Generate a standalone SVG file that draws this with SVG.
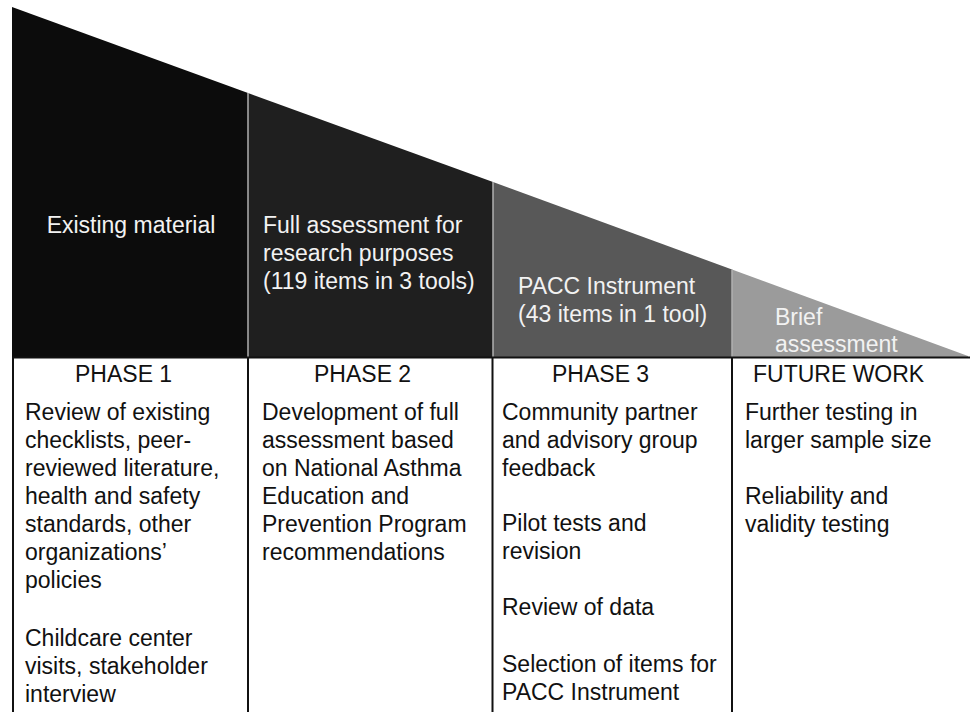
<svg xmlns="http://www.w3.org/2000/svg" width="971" height="712" viewBox="0 0 971 712">
<style>
text{font-family:"Liberation Sans",Arial,Helvetica,sans-serif;font-size:23px}
.w{fill:#f2f2f2}
.b{fill:#111}
.sep{stroke:#b0b0b0;stroke-width:1.5;fill:none}
.grid{stroke:#111;stroke-width:2;fill:none}
</style>
<rect width="971" height="712" fill="#ffffff"/>
<g id="col1">
<polygon points="12,7 248,93 248,357 12,357" fill="#0c0c0c"/>
<text class="w" x="131" y="233" text-anchor="middle">Existing material</text>
<text class="b" x="75" y="382">PHASE 1</text>
<text class="b" x="25" y="420">Review of existing</text>
<text class="b" x="25" y="448">checklists, peer-</text>
<text class="b" x="25" y="476">reviewed literature,</text>
<text class="b" x="25" y="504">health and safety</text>
<text class="b" x="25" y="532">standards, other</text>
<text class="b" x="25" y="560">organizations’</text>
<text class="b" x="25" y="588">policies</text>
<text class="b" x="25" y="646">Childcare center</text>
<text class="b" x="25" y="674">visits, stakeholder</text>
<text class="b" x="25" y="702">interview</text>
</g>
<g id="col2">
<polygon points="248,93 493,182 493,357 248,357" fill="#1f1f1f"/>
<text class="w" x="263" y="233">Full assessment for</text>
<text class="w" x="263" y="261">research purposes</text>
<text class="w" x="263" y="289">(119 items in 3 tools)</text>
<text class="b" x="314" y="382">PHASE 2</text>
<text class="b" x="262" y="420">Development of full</text>
<text class="b" x="262" y="448">assessment based</text>
<text class="b" x="262" y="476">on National Asthma</text>
<text class="b" x="262" y="504">Education and</text>
<text class="b" x="262" y="532">Prevention Program</text>
<text class="b" x="262" y="560">recommendations</text>
</g>
<g id="col3">
<polygon points="493,182 732,269.5 732,357 493,357" fill="#585858"/>
<text class="w" x="518" y="294">PACC Instrument</text>
<text class="w" x="518" y="322">(43 items in 1 tool)</text>
<text class="b" x="552" y="382">PHASE 3</text>
<text class="b" x="502" y="420">Community partner</text>
<text class="b" x="502" y="448">and advisory group</text>
<text class="b" x="502" y="476">feedback</text>
<text class="b" x="502" y="531">Pilot tests and</text>
<text class="b" x="502" y="559">revision</text>
<text class="b" x="502" y="615">Review of data</text>
<text class="b" x="502" y="672">Selection of items for</text>
<text class="b" x="502" y="700">PACC Instrument</text>
</g>
<g id="col4">
<polygon points="732,269.5 968,356 968,357 732,357" fill="#9b9b9b"/>
<text class="w" x="775" y="325">Brief</text>
<text class="w" x="775" y="352">assessment</text>
<text class="b" x="753" y="382">FUTURE WORK</text>
<text class="b" x="745" y="420">Further testing in</text>
<text class="b" x="745" y="448">larger sample size</text>
<text class="b" x="745" y="504">Reliability and</text>
<text class="b" x="745" y="532">validity testing</text>
</g>
<g id="connectors">
<line class="sep" x1="248" y1="93" x2="248" y2="357"/>
<line class="sep" x1="493" y1="182" x2="493" y2="357"/>
<line class="sep" x1="732" y1="269.5" x2="732" y2="357"/>
<line class="grid" x1="12" y1="357.5" x2="970" y2="357.5"/>
<line class="grid" x1="13" y1="357" x2="13" y2="712"/>
<line class="grid" x1="248" y1="357" x2="248" y2="712"/>
<line class="grid" x1="492.5" y1="357" x2="492.5" y2="712"/>
<line class="grid" x1="732" y1="357" x2="732" y2="712"/>
</g>
</svg>
